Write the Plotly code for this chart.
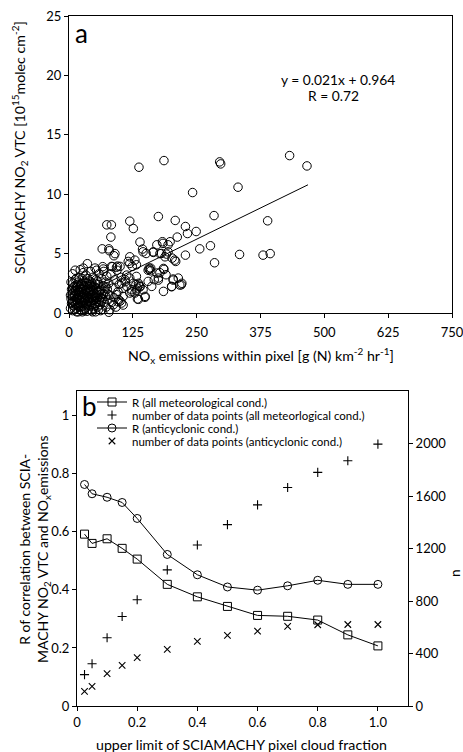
import plotly.graph_objects as go

# ---------------- Panel a data ----------------
nox_emissions = [
    137, 186, 295, 297, 432, 466, 242, 331, 284, 389,
    175, 208, 119, 126, 74, 83, 82, 228, 232, 249,
    212, 139, 172, 183, 198, 194, 65, 78, 79, 88,
    144, 165, 256, 277, 334, 380, 394, 285, 228, 209,
    191, 178, 202, 157, 160, 132, 116, 124, 100, 93,
    83, 36, 28, 22, 51, 67, 172, 190, 185, 204,
    214, 220, 201, 185, 149, 134, 129, 145, 139, 131,
    162, 155, 175, 167, 132, 119, 110, 103, 113, 123,
    119, 106, 103, 93, 97, 87, 80, 78,
    184, 194, 181, 188, 207, 145, 151, 165, 157, 155,
    160, 136, 139, 132, 134, 137, 149, 136, 201, 217,
    221, 175, 178, 186, 204, 110, 113, 106, 96, 106,
    126, 123, 119, 129, 119, 85, 95, 90,
    3, 4, 5, 5, 6, 7, 8, 8, 9, 10,
    10, 11, 12, 12, 13, 14, 15, 15, 16, 17,
    18, 18, 19, 20, 20, 21, 22, 22, 23, 24,
    24, 25, 26, 27, 27, 28, 29, 30, 30, 31,
    32, 33, 33, 34, 35, 36, 37, 38, 38, 39,
    40, 41, 42, 43, 44, 45, 46, 47, 48, 48,
    50, 51, 52, 53, 54, 55, 56, 57, 58, 59,
    60, 61, 62, 63, 64, 65, 66, 67, 68, 69,
    70, 71, 72, 73, 74, 75, 76, 78, 80, 82,
    84, 86, 88, 90, 92, 94, 96, 98, 100, 102,
    7, 12, 18, 26, 35, 44, 52, 58, 3, 4,
    14, 20, 28, 36, 42, 46, 54, 62, 66, 30,
    6, 8, 9, 11, 13, 14, 16, 17, 19, 21,
    22, 23, 25, 25, 26, 28, 29, 31, 32, 33,
    34, 35, 37, 38, 39, 40, 41, 43, 44, 45,
    47, 49, 50, 51, 53, 55, 56, 58, 60, 62,
    10, 12, 15, 17, 20, 24, 27, 30, 34, 36,
    40, 42, 46, 49, 52, 57, 64, 68, 72, 76,
]
no2_vtc = [
    12.27, 12.83, 12.72, 12.55, 13.25, 12.38, 10.14, 10.59, 8.2, 7.76,
    8.12, 7.79, 7.73, 7.11, 7.42, 7.42, 6.39, 7.28, 6.69, 6.86,
    6.39, 5.97, 5.74, 6.0, 6.0, 5.74, 5.4, 5.4, 5.24, 4.82,
    5.38, 5.1, 5.4, 5.66, 4.93, 4.87, 5.0, 4.23, 4.87, 4.34,
    4.96, 5.0, 4.62, 3.78, 3.78, 4.06, 4.34, 3.92, 3.92, 3.85,
    3.92, 4.15, 3.78, 3.64, 3.78, 3.7, 3.36, 3.22, 3.75, 2.86,
    2.94, 2.38, 2.24, 1.82, 1.4, 1.18, 1.68, 1.96, 2.24, 2.38,
    2.24, 2.66, 2.94, 2.8, 3.08, 2.94, 2.8, 2.52, 2.24, 1.96,
    1.68, 1.4, 0.84, 1.54, 1.12, 0.7, 0.28, 0.06,
    5.86, 5.15, 5.01, 4.73, 4.45, 5.15, 5.01, 5.15, 3.67, 3.6,
    3.55, 2.5, 2.2, 1.93, 2.1, 2.35, 1.32, 1.15, 2.21, 2.35,
    2.5, 2.77, 3.39, 3.67, 2.77, 2.63, 3.19, 2.07, 0.95, 0.67,
    2.5, 1.79, 4.17, 4.45, 4.73, 3.9, 3.95, 5.0,
    0.4, 1.2, 0.8, 2.0, 1.6, 0.2, 1.0, 2.5, 0.6, 1.4,
    1.9, 0.3, 1.1, 2.8, 0.7, 1.6, 2.2, 0.1, 1.3, 0.9,
    1.8, 2.6, 0.5, 1.2, 3.0, 2.0, 0.8, 1.5, 2.4, 0.2,
    1.0, 1.7, 2.9, 0.6, 1.3, 2.1, 0.9, 1.6, 2.6, 0.4,
    1.1, 1.9, 3.2, 0.7, 1.4, 2.3, 1.0, 0.3, 1.8, 2.7,
    1.2, 0.6, 2.0, 1.5, 0.9, 2.5, 1.1, 3.0, 0.4, 1.7,
    2.2, 0.8, 1.3, 2.8, 1.0, 1.9, 0.5, 1.5, 2.4, 3.3,
    1.1, 0.7, 2.0, 1.6, 2.9, 0.3, 1.2, 2.3, 3.5, 0.9,
    1.8, 2.6, 1.4, 0.5, 3.1, 2.0, 1.1, 2.5, 1.5, 3.3,
    0.9, 2.1, 1.3, 2.8, 0.5, 3.6, 1.8, 2.4, 1.0, 3.0,
    3.3, 3.6, 0.1, 0.1, 0.15, 0.2, 0.1, 0.3, 1.5, 2.6,
    2.9, 0.6, 3.4, 2.9, 3.5, 0.1, 3.6, 0.2, 3.9, 0.2,
    0.9, 1.7, 2.2, 1.5, 1.9, 0.4, 2.4, 0.6, 1.5, 1.1,
    2.2, 0.5, 1.3, 2.5, 0.9, 1.6, 2.3, 1.2, 0.8, 2.6,
    1.7, 2.0, 0.6, 1.3, 2.2, 0.9, 1.8, 2.6, 1.3, 0.7,
    1.9, 1.1, 0.6, 1.6, 2.1, 1.3, 2.7, 0.9, 1.9, 1.3,
    0.9, 2.3, 1.1, 2.0, 1.8, 2.0, 2.0, 1.0, 2.5, 1.2,
    2.4, 1.0, 2.2, 1.4, 2.5, 1.8, 1.0, 1.6, 2.2, 1.6,
]
fit_slope = 0.021
fit_intercept = 0.964
fit_x = [3, 468]
fit_y = [fit_slope * v + fit_intercept for v in fit_x]
x_ticks_a = [0, 125, 250, 375, 500, 625, 750]
y_ticks_a = [0, 5, 10, 15, 20, 25]

# ---------------- Panel b data ----------------
cloud_fraction = [0.025, 0.05, 0.1, 0.15, 0.2, 0.3, 0.4, 0.5, 0.6, 0.7, 0.8, 0.9, 1.0]
r_all = [0.592, 0.560, 0.576, 0.543, 0.506, 0.419, 0.376, 0.343, 0.312, 0.309, 0.296, 0.245, 0.207]
n_all = [239, 322, 520, 682, 809, 1037, 1227, 1382, 1532, 1665, 1780, 1868, 1995]
r_anti = [0.763, 0.731, 0.719, 0.701, 0.646, 0.522, 0.452, 0.410, 0.399, 0.414, 0.433, 0.419, 0.419]
n_anti = [112, 150, 246, 310, 368, 431, 492, 538, 570, 606, 619, 621, 621]
x_ticks_b = [0, 0.2, 0.4, 0.6, 0.8, 1.0]
x_ticktext_b = ["0", "0.2", "0.4", "0.6", "0.8", "1.0"]
y_ticks_b = [0, 0.2, 0.4, 0.6, 0.8, 1.0]
y_ticktext_b = ["0", "0.2", "0.4", "0.6", "0.8", "1"]
n_ticks = [0, 400, 800, 1200, 1600, 2000]

W, H = 463, 752
FONT = "Lato"
fig = go.Figure()

fig.add_trace(go.Scatter(
    x=nox_emissions, y=no2_vtc, mode="markers", xaxis="x", yaxis="y",
    marker=dict(symbol="circle-open", size=8.5, color="black", line=dict(width=1)),
    showlegend=False, cliponaxis=False))
fig.add_trace(go.Scatter(
    x=fit_x, y=fit_y, mode="lines", xaxis="x", yaxis="y",
    line=dict(color="black", width=1), showlegend=False))

fig.add_trace(go.Scatter(
    x=cloud_fraction, y=r_all, mode="lines+markers", xaxis="x2", yaxis="y2",
    name="R (all meteorological cond.)", legend="legend",
    line=dict(color="black", width=1),
    marker=dict(symbol="square-open", size=8, color="black", line=dict(width=1))))
fig.add_trace(go.Scatter(
    x=cloud_fraction, y=n_all, mode="markers", xaxis="x2", yaxis="y3",
    name="number of data points (all meteorlogical cond.)", legend="legend2",
    marker=dict(symbol="cross-thin-open", size=6.5, color="black", line=dict(width=1.1, color="black"))))
fig.add_trace(go.Scatter(
    x=cloud_fraction, y=r_anti, mode="lines+markers", xaxis="x2", yaxis="y2",
    name="R (anticyclonic cond.)", legend="legend3",
    line=dict(color="black", width=1),
    marker=dict(symbol="circle-open", size=8, color="black", line=dict(width=1))))
fig.add_trace(go.Scatter(
    x=cloud_fraction, y=n_anti, mode="markers", xaxis="x2", yaxis="y3",
    name="number of data points (anticyclonic cond.)", legend="legend4",
    marker=dict(symbol="x-thin-open", size=6.5, color="black", line=dict(width=1.1, color="black"))))

axis_common = dict(showline=True, linecolor="black", linewidth=1, ticks="outside",
                   ticklen=4, tickcolor="black", showgrid=False, zeroline=False,
                   automargin=False, ticklabeloverflow="allow",
                   tickfont=dict(family=FONT, size=13, color="black"))

def legend_row(ycenter):
    return dict(x=92 / W, y=1 - ycenter / H, xanchor="left", yanchor="middle",
                bgcolor="rgba(0,0,0,0)", borderwidth=0, itemwidth=30,
                font=dict(family=FONT, size=11.5, color="black"))

fig.update_layout(
    template="none",
    width=W, height=H, margin=dict(l=0, r=0, t=0, b=0, autoexpand=False),
    paper_bgcolor="white", plot_bgcolor="white",
    font=dict(family=FONT, color="black"),
    xaxis=dict(domain=[69 / W, 452 / W], range=[0, 750], tickvals=x_ticks_a,
               anchor="y", mirror=True, ticklabelstandoff=3, **axis_common),
    yaxis=dict(domain=[1 - 313 / H, 1 - 16 / H], range=[0, 25], tickvals=y_ticks_a,
               anchor="x", mirror=True, **axis_common),
    xaxis2=dict(domain=[77 / W, 408 / W], range=[0, 1.1], tickvals=x_ticks_b,
                ticktext=x_ticktext_b, anchor="y2", mirror=True, **axis_common),
    yaxis2=dict(domain=[1 - 706 / H, 1 - 391 / H], range=[0, 1.085], tickvals=y_ticks_b,
                ticktext=y_ticktext_b, anchor="x2", **axis_common),
    yaxis3=dict(domain=[1 - 706 / H, 1 - 391 / H], range=[0, 2400], tickvals=n_ticks,
                overlaying="y2", side="right", anchor="x2", **axis_common),
    legend=legend_row(402),
    legend2=legend_row(415),
    legend3=legend_row(428),
    legend4=legend_row(441),
    showlegend=True,
)

def px_annot(text, x, y, size=12, angle=0, xanchor="center", yanchor="middle", align="center"):
    fig.add_annotation(text=text, x=x / W, y=1 - y / H, xref="paper", yref="paper",
                       showarrow=False, textangle=angle, xanchor=xanchor, yanchor=yanchor,
                       align=align, font=dict(family=FONT, size=size, color="black"))

px_annot("a", 81, 33, size=26)
px_annot("b", 89, 406, size=26)
px_annot("y = 0.021x + 0.964", 338, 79, size=13.8)
px_annot("R = 0.72", 333, 96, size=13.8)
px_annot("NO<sub>x</sub> emissions within pixel [g (N) km<sup>-2</sup> hr<sup>-1</sup>]", 261, 356, size=14.2)
px_annot("SCIAMACHY NO<sub>2</sub> VTC [10<sup>15</sup>molec cm<sup>-2</sup>]", 20, 148, size=14.2, angle=-90)
px_annot("upper limit of SCIAMACHY pixel cloud fraction", 242, 744, size=14.2)
px_annot("R of correlation between SCIA-<br>MACHY NO<sub>2</sub> VTC and NO<sub>x</sub>emissions",
         34, 550, size=14, angle=-90)
px_annot("n", 455, 573, size=13.5, angle=-90)

fig.write_html("out.html", config={"displayModeBar": False},
               post_script="document.body.style.margin='0px';document.body.style.overflow='hidden';")
